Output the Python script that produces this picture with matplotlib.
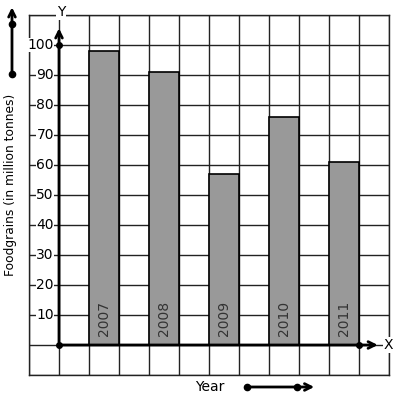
import matplotlib.pyplot as plt

# Foodgrain production per year (million tonnes)
years = ["2007", "2008", "2009", "2010", "2011"]
production = [98, 91, 57, 76, 61]
bar_left = [1, 3, 5, 7, 9]
y_ticks = [10, 20, 30, 40, 50, 60, 70, 80, 90, 100]

fig = plt.figure(figsize=(3.97, 4.01), dpi=100)
ax = fig.add_axes([29 / 397, 26 / 401, 360 / 397, 360 / 401])
ax.set_xlim(-1, 11)
ax.set_ylim(-10, 110)

# graph paper grid
ax.set_xticks(range(-1, 12))
ax.set_yticks(range(-10, 111, 10))
ax.grid(True, color='#222222', lw=1)
ax.set_axisbelow(True)
ax.tick_params(length=0, labelbottom=False, labelleft=False)
for s in ax.spines.values():
    s.set_color('#222222')
    s.set_linewidth(1)

# bars
ax.bar(bar_left, production, width=1, align='edge', color='#999999',
       edgecolor='black', lw=1.2, zorder=3)
for x, yr in zip(bar_left, years):
    ax.text(x + 0.5, 9, yr, rotation=90, ha='center', va='center',
            fontsize=10, color='#333333', zorder=4)

# axes with arrows
arr = dict(arrowstyle='->', lw=2, color='black', mutation_scale=12)
ax.annotate('', xy=(0, 106.5), xytext=(0, 0), arrowprops=arr, zorder=5)
ax.annotate('', xy=(10.72, 0), xytext=(0, 0), arrowprops=arr, zorder=5)
ax.plot([0, 0, 10], [0, 100, 0], 'o', color='black', ms=4, zorder=6)

bb = dict(facecolor='white', edgecolor='none', pad=0.5)
ax.text(0.07, 111, 'Y', ha='center', va='center', fontsize=10, bbox=bb, clip_on=False, zorder=6)
ax.text(10.97, 0, 'X', ha='center', va='center', fontsize=10, bbox=bb, clip_on=False, zorder=6)

for v in y_ticks:
    ax.text(-0.17, v, str(v), ha='right', va='center', fontsize=10,
            bbox=dict(facecolor='white', edgecolor='none', pad=0), zorder=4)

# y label with arrow on the left
ax.text(-1.6, 53.3, 'Foodgrains (in million tonnes)', rotation=90,
        ha='center', va='center', fontsize=8.8, clip_on=False)
ax.annotate('', xy=(-1.567, 113.5), xytext=(-1.567, 90.33), arrowprops=arr,
            annotation_clip=False, zorder=5)
ax.plot([-1.567, -1.567], [107, 90.33], 'o', color='black', ms=4.5,
        clip_on=False, zorder=7)

# x label with arrow below
ax.text(5.03, -13.9, 'Year', ha='center', va='center', fontsize=10, clip_on=False)
ax.annotate('', xy=(8.6, -14.0), xytext=(6.27, -14.0), arrowprops=arr,
            annotation_clip=False, zorder=5)
ax.plot([6.27, 7.93], [-14.0, -14.0], 'o', color='black', ms=4.5,
        clip_on=False, zorder=7)

fig.savefig('out.png', dpi=100)
